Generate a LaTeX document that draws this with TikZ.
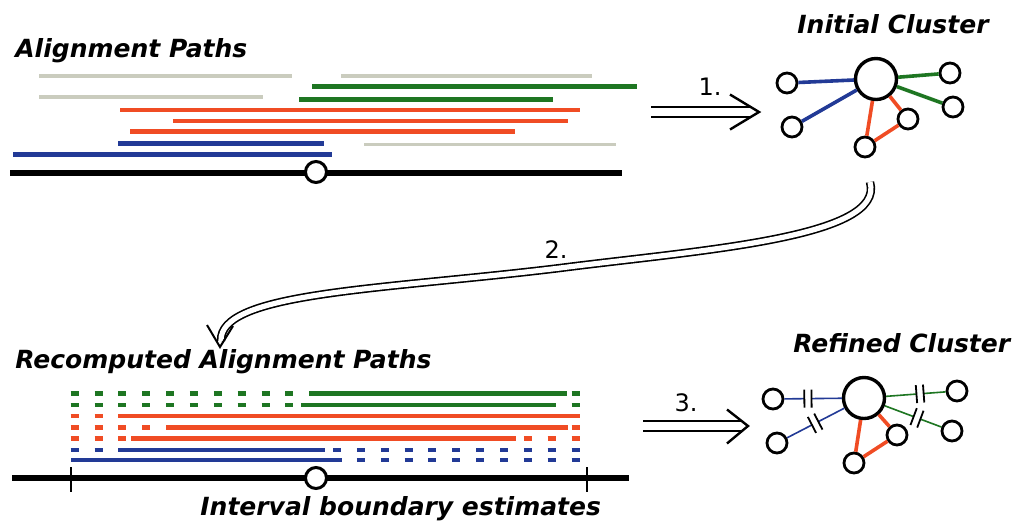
\documentclass[tikz,border=0pt]{standalone}
\usepackage{fontspec}
\setmainfont{DejaVu Sans}
\usetikzlibrary{decorations.markings}

\definecolor{pathgreen}{RGB}{30,118,34}
\definecolor{pathred}{RGB}{240,76,36}
\definecolor{pathblue}{RGB}{34,58,150}
\definecolor{pathgrey}{RGB}{202,204,190}

% one row of short dashes on the recomputed grid
\newcommand\dashrow[3]{\foreach \k in {#3} \draw[dashseg,#1] ({70.7+23.85*\k},#2) -- ++(8,0);}

\begin{document}
\begin{tikzpicture}[x=0.5pt, y=-0.5pt,
  %--- texts ---
  title/.style={font=\fontsize{12.5}{15}\selectfont\bfseries\itshape, anchor=base west, inner sep=0pt},
  steplabel/.style={font=\fontsize{12}{14}\selectfont, inner sep=0pt},
  %--- alignment paths ---
  seg/.style={line width=2.3pt},
  greyseg/.style={line width=1.6pt, draw=pathgrey},
  dashseg/.style={line width=2.4pt},
  axisline/.style={line width=2.8pt, draw=black},
  tickline/.style={line width=1pt},
  locus/.style={circle, draw, fill=white, line width=1.5pt, minimum size=10.5pt, inner sep=0pt},
  %--- clusters ---
  hub/.style={circle, draw, fill=white, line width=1.7pt, minimum size=20.5pt, inner sep=0pt},
  leaf/.style={circle, draw, fill=white, line width=1.4pt, minimum size=10pt, inner sep=0pt},
  edge/.style={line width=1.8pt},
  thinedge/.style={line width=0.8pt},
  cut/.style={postaction={decorate, decoration={markings, mark=at position #1 with {
      \fill[white] (-1.8pt,-2pt) rectangle (1.8pt,2pt);
      \draw[line width=0.9pt, black] (-1.8pt,-4.5pt) -- (-1.8pt,4.5pt) (1.8pt,-4.5pt) -- (1.8pt,4.5pt);}}}},
  %--- arrows ---
  flow/.style={draw, line width=1pt, double=white, double distance=4pt},
  head/.style={draw, line width=1.2pt, line join=miter},
]
\useasboundingbox[fill=white] (0,0) rectangle (1018,527);

%% ── TOP: alignment paths ───────────────────────────────────────────────────
\node[title] (tAlign) at (15,57) {Alignment Paths};
\foreach \y/\xa/\xb in {76/39/292, 76/341/592, 97/39/263, 144.5/364/616}
  \draw[greyseg] (\xa,\y) -- (\xb,\y);
\foreach \y/\xa/\xb/\c in {86.7/312/637/pathgreen, 99.3/299/553/pathgreen,
    110/120/580/pathred, 121/173/568/pathred, 131.7/130/515/pathred,
    143.3/118/324/pathblue, 154.3/13/332/pathblue}
  \draw[seg,\c] (\xa,\y) -- (\xb,\y);
\draw[axisline] (10,173) -- (622,173);
\node[locus] (locA) at (316,172) {};

%% ── BOTTOM: recomputed alignment paths ─────────────────────────────────────
\node[title] (tRecomp) at (15,368) {Recomputed Alignment Paths};
\dashrow{pathgreen}{393.3}{0,...,9,21}
\draw[seg,pathgreen] (309,393.3) -- (567,393.3);
\dashrow{pathgreen}{405}{0,...,9,21}
\draw[seg,pathgreen] (301,405) -- (556,405);
\dashrow{pathred}{416}{0,1}
\draw[seg,pathred] (118,416) -- (580,416);
\dashrow{pathred}{427.3}{0,...,3,21}
\draw[seg,pathred] (166,427.3) -- (568,427.3);
\dashrow{pathred}{438.3}{0,1,2,19,20,21}
\draw[seg,pathred] (131,438.3) -- (516,438.3);
\dashrow{pathblue}{450}{0,1,11,12,...,21}
\draw[seg,pathblue] (118,450) -- (325,450);
\dashrow{pathblue}{460}{12,13,...,21}
\draw[seg,pathblue] (71,460) -- (342,460);
\draw[axisline] (12,478) -- (629,478);
\draw[tickline] (71,467) -- (71,492) (587,467) -- (587,492);
\node[locus] (locB) at (316,478) {};
\node[title] (tBound) at (200,515) {Interval boundary estimates};

%% ── INITIAL CLUSTER ────────────────────────────────────────────────────────
\node[title] (tInit) at (797,33) {Initial Cluster};
\node[hub] (ic) at (876,79) {};
\node[leaf] (ic1) at (787,83) {};
\node[leaf] (ic2) at (792,127) {};
\node[leaf] (ic3) at (950,73) {};
\node[leaf] (ic4) at (953,107) {};
\node[leaf] (ic5) at (908,119) {};
\node[leaf] (ic6) at (865,147) {};
\draw[edge,pathblue] (ic) -- (ic1);
\draw[edge,pathblue] (ic) -- (ic2);
\draw[edge,pathgreen] (ic) -- (ic3);
\draw[edge,pathgreen] (ic) -- (ic4);
\draw[edge,pathred] (ic) -- (ic5);
\draw[edge,pathred] (ic) -- (ic6);
\draw[edge,pathred] (ic5) -- (ic6);

%% ── REFINED CLUSTER ────────────────────────────────────────────────────────
\node[title] (tRef) at (793,352) {Refined Cluster};
\node[hub] (rc) at (864,398) {};
\node[leaf] (rc1) at (773,399) {};
\node[leaf] (rc2) at (777,443) {};
\node[leaf] (rc3) at (957,391) {};
\node[leaf] (rc4) at (952,431) {};
\node[leaf] (rc5) at (897,435) {};
\node[leaf] (rc6) at (854,463) {};
\draw[thinedge,pathblue,cut=0.59] (rc) -- (rc1);
\draw[thinedge,pathblue,cut=0.51] (rc) -- (rc2);
\draw[thinedge,pathgreen,cut=0.57] (rc) -- (rc3);
\draw[thinedge,pathgreen,cut=0.57] (rc) -- (rc4);
\draw[edge,pathred] (rc) -- (rc5);
\draw[edge,pathred] (rc) -- (rc6);
\draw[edge,pathred] (rc5) -- (rc6);

%% ── STEP ARROWS ────────────────────────────────────────────────────────────
\coordinate (a1s) at (651,112);
\coordinate (a1e) at (759,112);
\draw[flow] (a1s) -- (750,112);
\draw[head] (a1e) ++(-29,-17.5) -- (a1e) -- ++(-29,17.5);
\node[steplabel] (s1) at (710,87) {1.};

\coordinate (a2s) at (870,182);
\coordinate (a2e) at (220,347);
\draw[flow, line width=0.8pt, double distance=2.6pt]
  (a2s) .. controls (886,238) and (700,250) .. (560,268)
        .. controls (380,290) and (219,292) .. (221,341);
\draw[head, line width=1pt] (a2e) ++(-13,-22) -- (a2e) -- ++(13,-21);
\node[steplabel] (s2) at (556,250) {2.};

\coordinate (a3s) at (643,426);
\coordinate (a3e) at (748,426);
\draw[flow, double distance=3.7pt] (a3s) -- (742,426);
\draw[head] (a3e) ++(-21,-16.5) -- (a3e) -- ++(-21,17.5);
\node[steplabel] (s3) at (686,403) {3.};
\end{tikzpicture}
\end{document}
